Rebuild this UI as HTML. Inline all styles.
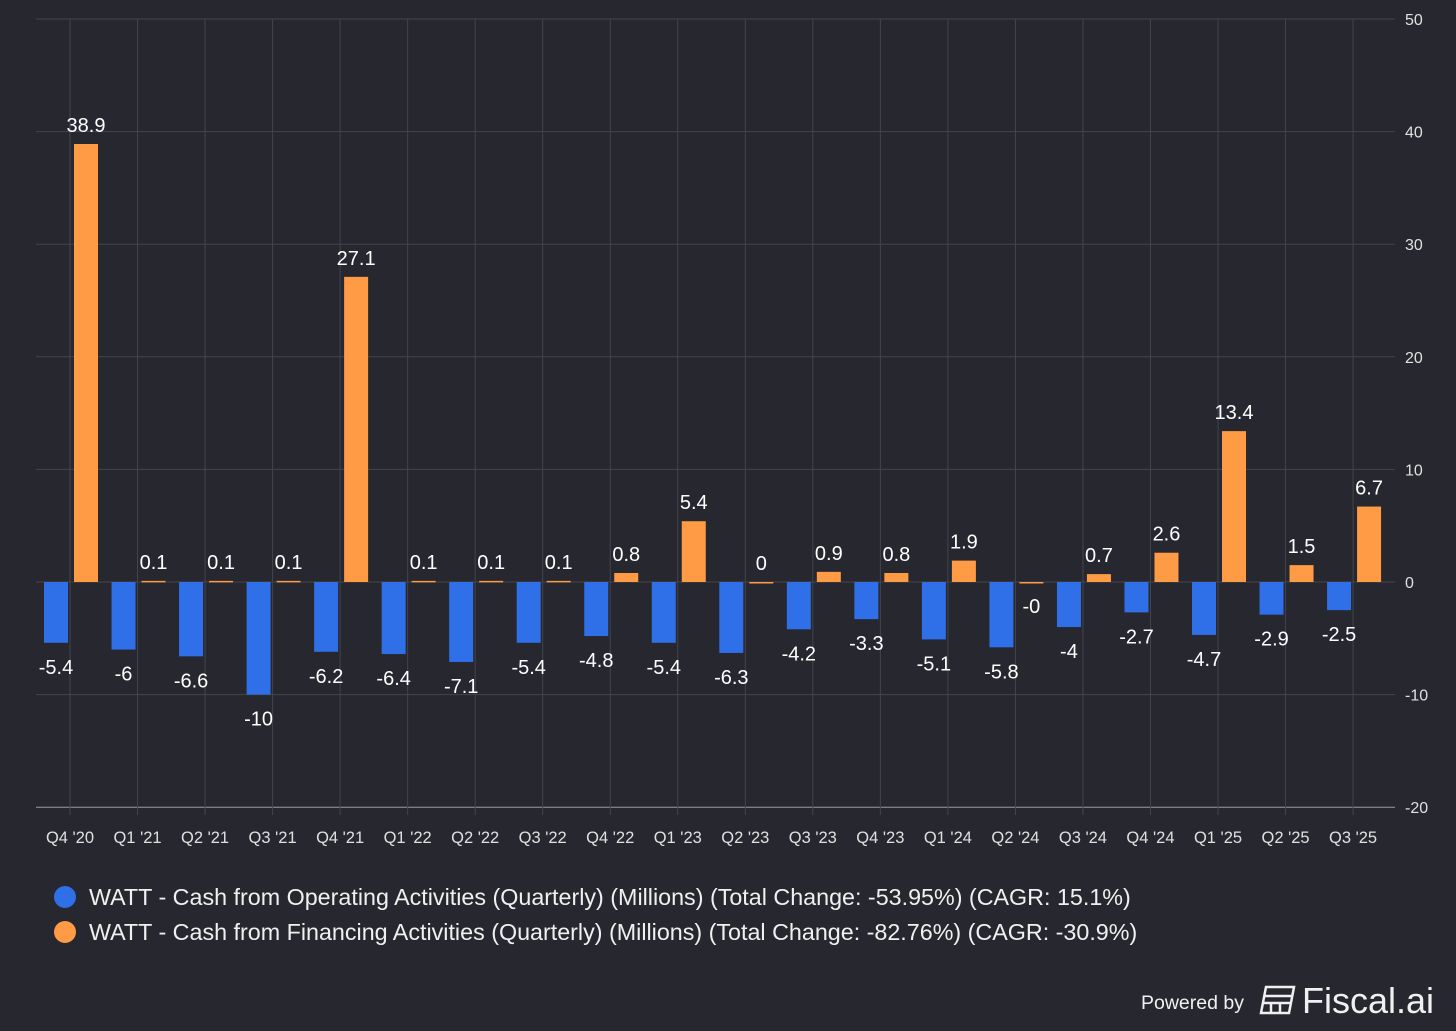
<!DOCTYPE html>
<html><head><meta charset="utf-8"><style>
html,body{margin:0;padding:0;background:#27272f;}
svg{display:block;font-family:"Liberation Sans",Arial,sans-serif;}
</style></head><body>
<svg id="c" width="1456" height="1031">
<rect width="1456" height="1031" fill="#27272f"/>
<g id="grid"></g><g id="bars"></g><g id="labels"></g>
<g>
<circle cx="65" cy="897" r="11" fill="#2f6fe8"/>
<text x="89" y="905" font-size="23.3" fill="#f0f0f0">WATT - Cash from Operating Activities (Quarterly) (Millions) (Total Change: -53.95%) (CAGR: 15.1%)</text>
<circle cx="65" cy="932" r="11" fill="#ff9a45"/>
<text x="89" y="940" font-size="23.3" fill="#f0f0f0">WATT - Cash from Financing Activities (Quarterly) (Millions) (Total Change: -82.76%) (CAGR: -30.9%)</text>
</g>
<g>
<text x="1141" y="1009" font-size="19.5" fill="#f0f0f0">Powered by</text>
<g transform="translate(1261,987)" fill="none" stroke="#f0f0f0" stroke-width="2.5">
<path d="M5 0 H33 L28 26 H0 Z"/><path d="M3 9 H31"/><path d="M2 16 H30 M10 16 V26 M19 16 V26"/>
</g>
<text x="1302" y="1013" font-size="36" fill="#f0f0f0">Fiscal.ai</text>
</g>
</svg>
<script>
const categories=["Q4 '20","Q1 '21","Q2 '21","Q3 '21","Q4 '21","Q1 '22","Q2 '22","Q3 '22","Q4 '22","Q1 '23","Q2 '23","Q3 '23","Q4 '23","Q1 '24","Q2 '24","Q3 '24","Q4 '24","Q1 '25","Q2 '25","Q3 '25"];
const operating=[-5.4,-6,-6.6,-10,-6.2,-6.4,-7.1,-5.4,-4.8,-5.4,-6.3,-4.2,-3.3,-5.1,-5.8,-4,-2.7,-4.7,-2.9,-2.5];
const financing=[38.9,0.1,0.1,0.1,27.1,0.1,0.1,0.1,0.8,5.4,0,0.9,0.8,1.9,-0,0.7,2.6,13.4,1.5,6.7];
const yTicks=[50,40,30,20,10,0,-10,-20];
const NS="http://www.w3.org/2000/svg";
const y=v=>582-v*11.26;
const x=i=>70+i*67.53;
const grid=document.getElementById('grid'),bars=document.getElementById('bars'),labels=document.getElementById('labels');
function mk(tag,at,parent){const e=document.createElementNS(NS,tag);for(const k in at)e.setAttribute(k,at[k]);parent.appendChild(e);return e;}
yTicks.forEach(t=>{
  const l=mk('line',{x1:36,x2:1395,y1:y(t),y2:y(t),stroke:t===-20?'#9a9aa0':'#44444e','stroke-width':1},grid);
  
  
  const tx=mk('text',{x:1405,y:y(t)+6,'font-size':16,fill:'#e0e0e0'},grid);tx.textContent=t;
  
  
});
categories.forEach((c,i)=>{
  const l=mk('line',{x1:x(i),x2:x(i),y1:19,y2:815,stroke:'#44444e','stroke-width':1},grid);
  
  
  const tx=mk('text',{x:x(i),y:843,'font-size':16.5,fill:'#e0e0e0','text-anchor':'middle'},grid);tx.textContent=c;
  
  
});
function bar(v,cx,color,name){
  const top=Math.min(y(v),y(0)),h=Math.abs(y(v)-y(0));
  const r=mk('rect',{x:cx-12,y:top,width:24,height:Math.max(h,1.5),fill:color},bars);
  
  
  const neg=v<0||Object.is(v,-0);
  const ty=neg?y(v)+31:y(v)-12;
  const tx=mk('text',{x:cx,y:ty,'font-size':20,fill:'#ffffff','text-anchor':'middle'},labels);
  tx.textContent=Object.is(v,-0)?'-0':String(v);
  
  
}
categories.forEach((c,i)=>{
  bar(operating[i],x(i)-14,'#2f6fe8','bar-operating');
  bar(financing[i],x(i)+16,'#ff9a45','bar-financing');
});
</script>
</body></html>
